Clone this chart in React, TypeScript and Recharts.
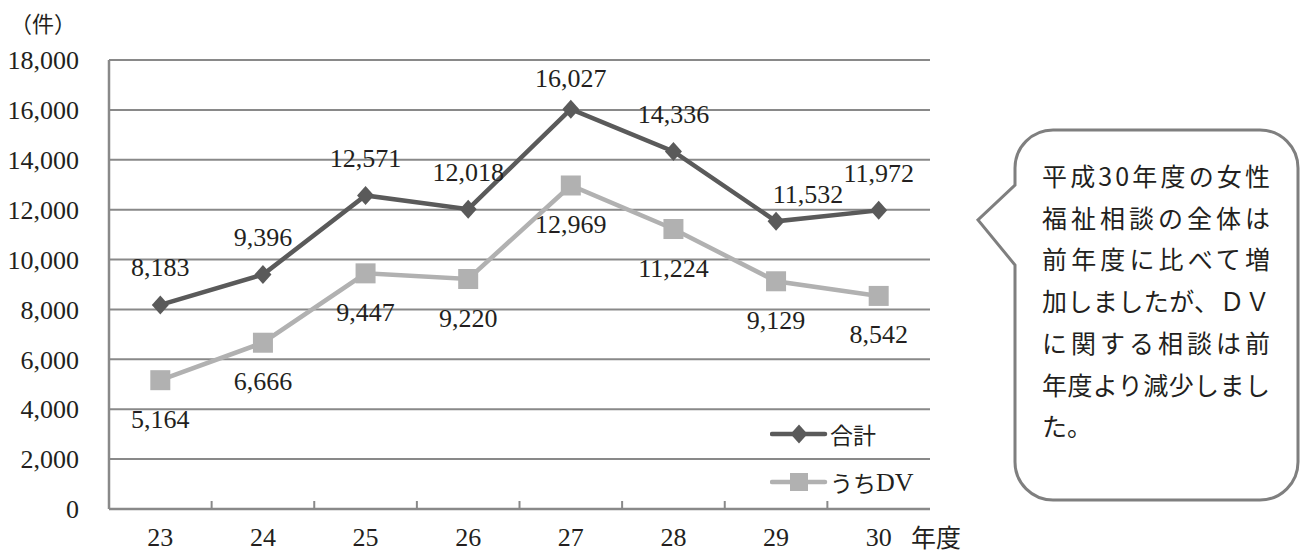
import React from 'react';
import { LineChart, Line, XAxis, YAxis, CartesianGrid, LabelList, Legend } from 'recharts';

const categories = ['23', '24', '25', '26', '27', '28', '29', '30'];
const totalValues = [8183, 9396, 12571, 12018, 16027, 14336, 11532, 11972];
const dvValues = [5164, 6666, 9447, 9220, 12969, 11224, 9129, 8542];
const yTicks = [0, 2000, 4000, 6000, 8000, 10000, 12000, 14000, 16000, 18000];
const seriesNames = ['合計', 'うちDV'];
const unitLabel = '（件）';
const xUnitLabel = '年度';
const calloutLines = [
  '平成30年度の女性',
  '福祉相談の全体は',
  '前年度に比べて増',
  '加しましたが、ＤＶ',
  'に関する相談は前',
  '年度より減少しまし',
  'た。',
];

const data = categories.map((c, i) => ({ year: c, total: totalValues[i], dv: dvValues[i] }));

const W = 1311;
const H = 553;
const PLOT_LEFT = 109;
const PLOT_RIGHT = 930;
const PLOT_TOP = 60;
const PLOT_BOTTOM = 509;
const PLOT_W = PLOT_RIGHT - PLOT_LEFT;
const HALF_BAND = PLOT_W / categories.length / 2;
const X_AXIS_H = H - PLOT_BOTTOM;

const SERIF = '"Liberation Serif", "Noto Sans CJK JP", serif';
const CJK = '"Noto Sans CJK JP", "Liberation Serif", sans-serif';
const TEXT = '#231f20';
const GRID = '#898989';
const TOTAL_COLOR = '#5a5a5a';
const DV_COLOR = '#b1b1b1';
const NUM_SIZE = 26;

const fmt = (v: number) => v.toLocaleString('en-US');

const XTick = (props: any) => {
  const { x, y, payload, index } = props;
  const axisY = y - 19;
  const last = index === categories.length - 1;
  return (
    <g>
      <text x={x} y={y} dy="0.71em" textAnchor="middle" fontFamily={SERIF} fontSize={NUM_SIZE} fill={TEXT}>
        {payload.value}
      </text>
      {!last && (
        <line x1={x + HALF_BAND} x2={x + HALF_BAND} y1={axisY} y2={axisY - 8} stroke={GRID} strokeWidth={2} />
      )}
    </g>
  );
};

const totalNudge: Record<number, [number, number]> = { 4: [0, 6], 6: [32, 10] };

const renderTotalLabel = (p: any) => {
  const { x, y, value, index } = p;
  const [dx, dy] = totalNudge[index] || [0, 0];
  return (
    <text
      key={`tl-${index}`}
      x={x + dx}
      y={y - 37 + dy}
      textAnchor="middle"
      dominantBaseline="central"
      fontFamily={SERIF}
      fontSize={NUM_SIZE}
      fill={TEXT}
    >
      {fmt(value)}
    </text>
  );
};

const renderDvLabel = (p: any) => {
  const { x, y, value, index } = p;
  return (
    <text
      key={`dl-${index}`}
      x={x}
      y={y + 39}
      textAnchor="middle"
      dominantBaseline="central"
      fontFamily={SERIF}
      fontSize={NUM_SIZE}
      fill={TEXT}
    >
      {fmt(value)}
    </text>
  );
};

const renderDiamond = (p: any) => {
  const { cx, cy, index } = p;
  return (
    <polygon
      key={`dm-${index}`}
      points={`${cx},${cy - 9.5} ${cx + 8.5},${cy} ${cx},${cy + 9.5} ${cx - 8.5},${cy}`}
      fill={TOTAL_COLOR}
    />
  );
};

const renderSquare = (p: any) => {
  const { cx, cy, index } = p;
  return <rect key={`sq-${index}`} x={cx - 10} y={cy - 10} width={20} height={20} fill={DV_COLOR} />;
};

const LegendContent = () => (
  <svg width={170} height={100} style={{ display: 'block' }}>
    <line x1={2} x2={55} y1={16} y2={16} stroke={TOTAL_COLOR} strokeWidth={4.5} strokeLinecap="round" />
    <polygon points="29,6.5 37.5,16 29,25.5 20.5,16" fill={TOTAL_COLOR} />
    <text x={60} y={16} dominantBaseline="central" fontFamily={CJK} fontSize={23} fill={TEXT}>
      {seriesNames[0]}
    </text>
    <line x1={2} x2={55} y1={64} y2={64} stroke={DV_COLOR} strokeWidth={4.5} strokeLinecap="round" />
    <rect x={20} y={55} width={18} height={18} fill={DV_COLOR} />
    <text x={60} y={64} dominantBaseline="central" fontFamily={CJK} fontSize={23} fill={TEXT}>
      <tspan>うち</tspan>
      <tspan fontFamily={SERIF} fontSize={NUM_SIZE}>DV</tspan>
    </text>
  </svg>
);

export default function App() {
  const bx1 = 1015;
  const bx2 = 1298;
  const by1 = 130;
  const by2 = 500;
  const r = 38;
  const calloutPath = `M ${bx1 + r} ${by1} H ${bx2 - r} A ${r} ${r} 0 0 1 ${bx2} ${by1 + r} V ${by2 - r} A ${r} ${r} 0 0 1 ${bx2 - r} ${by2} H ${bx1 + r} A ${r} ${r} 0 0 1 ${bx1} ${by2 - r} V 265 L 978 220 L ${bx1} 185 V ${by1 + r} A ${r} ${r} 0 0 1 ${bx1 + r} ${by1} Z`;

  return (
    <div style={{ position: 'absolute', left: 0, top: 0, width: W, height: H, background: '#fff', overflow: 'hidden' }}>
      <LineChart
        width={W}
        height={H}
        data={data}
        margin={{ top: PLOT_TOP, right: W - PLOT_RIGHT, bottom: 0, left: 0 }}
      >
        <CartesianGrid horizontal vertical={false} stroke={GRID} strokeWidth={2} />
        <XAxis
          dataKey="year"
          interval={0}
          height={X_AXIS_H}
          tickSize={0}
          tickMargin={19}
          tickLine={false}
          axisLine={{ stroke: GRID, strokeWidth: 2.5 }}
          padding={{ left: HALF_BAND, right: HALF_BAND }}
          tick={(p: any) => <XTick {...p} />}
        />
        <YAxis
          domain={[0, 18000]}
          ticks={yTicks}
          width={PLOT_LEFT}
          tickSize={0}
          tickMargin={30}
          tickLine={false}
          axisLine={{ stroke: GRID, strokeWidth: 2.5 }}
          tickFormatter={fmt}
          tick={{ fontFamily: SERIF, fontSize: NUM_SIZE, fill: TEXT }}
        />
        <YAxis
          yAxisId="right"
          orientation="right"
          domain={[0, 18000]}
          width={0}
          tick={false}
          tickLine={false}
          axisLine={{ stroke: GRID, strokeWidth: 2.5 }}
        />
        <Legend
          layout="vertical"
          align="center"
          verticalAlign="middle"
          content={<LegendContent />}
          wrapperStyle={{ position: 'absolute', left: 770, top: 418, width: 170, height: 100 }}
        />
        <Line
          type="linear"
          dataKey="total"
          name={seriesNames[0]}
          stroke={TOTAL_COLOR}
          strokeWidth={4.5}
          dot={renderDiamond}
          isAnimationActive={false}
        >
          <LabelList dataKey="total" content={renderTotalLabel} />
        </Line>
        <Line
          type="linear"
          dataKey="dv"
          name={seriesNames[1]}
          stroke={DV_COLOR}
          strokeWidth={4.5}
          dot={renderSquare}
          isAnimationActive={false}
        >
          <LabelList dataKey="dv" content={renderDvLabel} />
        </Line>
      </LineChart>

      <div
        style={{
          position: 'absolute',
          left: 10,
          top: 7,
          fontFamily: CJK,
          fontSize: 22,
          color: TEXT,
          lineHeight: '30px',
        }}
      >
        {unitLabel}
      </div>
      <div
        style={{
          position: 'absolute',
          left: 911,
          top: 519,
          fontFamily: CJK,
          fontSize: 25,
          color: TEXT,
          lineHeight: '34px',
          whiteSpace: 'nowrap',
        }}
      >
        {xUnitLabel}
      </div>

      <svg width={W} height={H} style={{ position: 'absolute', left: 0, top: 0, pointerEvents: 'none' }}>
        <path d={calloutPath} fill="#fff" stroke="#7f7f7f" strokeWidth={3} strokeLinejoin="miter" />
        {calloutLines.map((line, i) => (
          <text
            key={i}
            x={1042}
            y={175 + i * 41.7}
            dominantBaseline="central"
            fontFamily={CJK}
            fontSize={25}
            fill={TEXT}
            {...(i < calloutLines.length - 1 ? { textLength: 228, lengthAdjust: 'spacing' } : {})}
          >
            {line}
          </text>
        ))}
      </svg>
    </div>
  );
}
